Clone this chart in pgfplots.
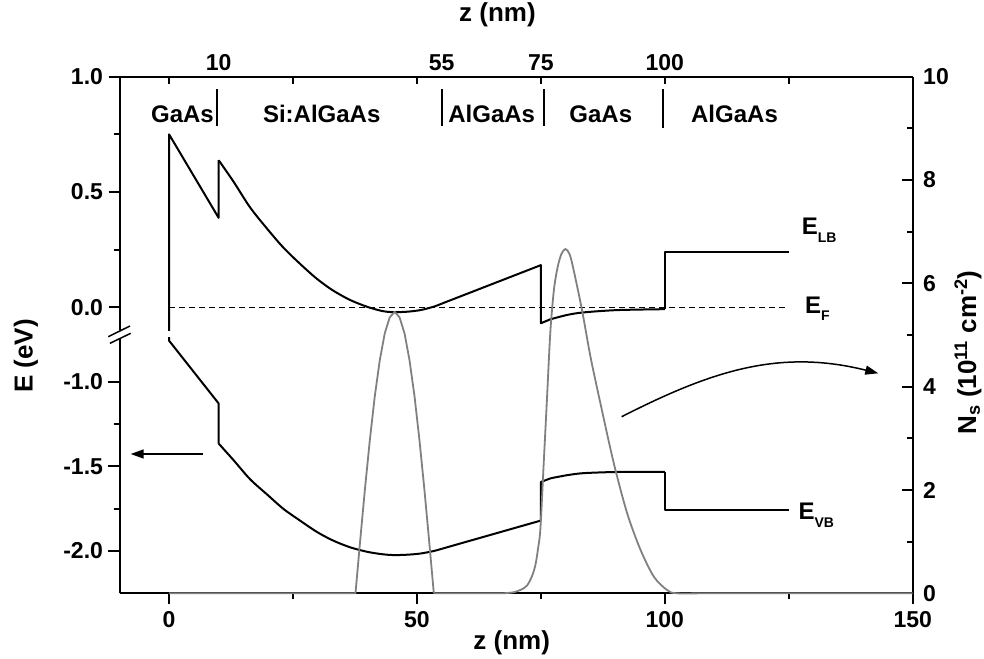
\documentclass[border=0pt]{standalone}
\usepackage{fontspec}
\setmainfont{Liberation Sans}
\usepackage{pgfplots}
\pgfplotsset{compat=1.18}
\usetikzlibrary{arrows.meta}
\definecolor{nsgray}{RGB}{128,128,128}
\newcommand{\tfont}{\fontsize{23}{23}\selectfont\bfseries}
\newcommand{\lfont}{\fontsize{24}{24}\selectfont\bfseries}
\newcommand{\afont}{\fontsize{26}{26}\selectfont\bfseries}
\pgfplotsset{
  base/.style={scale only axis, width=793.2pt, xmin=-10, xmax=150,
    axis line style={line width=2pt,-},
    tick style={line width=2pt, black},
    major tick length=11pt, minor tick length=6pt,
    ticklabel style={font=\tfont},
    /pgf/number format/assume math mode=true},
}
\begin{document}
\begin{tikzpicture}[x=1pt,y=1pt]
\useasboundingbox (0,0) rectangle (984,658);

% ---------- upper energy segment ----------
\begin{axis}[base, at={(119.5pt,327.6pt)}, anchor=south west, height=253.7pt,
  ymin=-0.1, ymax=1.0, axis x line=none, axis y line*=left, tick align=outside,
  ytick={0,0.5,1}, yticklabels={0.0,0.5,1.0}, minor ytick={0.25,0.75},
  yticklabel style={xshift=-2pt}]
\addplot[black, line width=2pt, line join=round] coordinates {(0,-0.3) (0,0.75) (10,0.388) (10,0.638)};
\addplot[black, line width=2pt, smooth] coordinates {(10,0.638) (13,0.545) (16.35,0.433) (20,0.335) (23.1,0.258) (26.5,0.187) (29.8,0.124) (33,0.074) (36.5,0.032) (40,0.002) (43,-0.016) (45.3,-0.021) (48,-0.019) (50.7,-0.012) (53.4,0.003) (55,0.016)};
\addplot[black, line width=2pt, line join=round] coordinates {(55,0.016) (75,0.183) (75,-0.069) (76.9,-0.052)};
\addplot[black, line width=2pt, smooth] coordinates {(76.9,-0.052) (80.3,-0.033) (83.6,-0.022) (90.4,-0.012) (100,-0.008)};
\addplot[black, line width=2pt, line join=round] coordinates {(100,-0.008) (100,0.241) (125,0.241)};
\addplot[black, line width=1.3pt, dash pattern=on 6pt off 4pt] coordinates {(0,0) (125,0)};
\end{axis}

% ---------- lower energy segment ----------
\begin{axis}[base, at={(119.5pt,64.7pt)}, anchor=south west, height=255.5pt,
  ymin=-2.25, ymax=-0.74, axis x line=none, axis y line*=left, tick align=outside,
  ytick={-2,-1.5,-1}, yticklabels={-2.0,-1.5,-1.0}, minor ytick={-1.75,-1.25},
  yticklabel style={xshift=-2pt}]
\addplot[black, line width=2pt, line join=round] coordinates {(0,-0.6) (0,-0.757) (10,-1.128) (10,-1.365)};
\addplot[black, line width=2pt, smooth] coordinates {(10,-1.365) (13,-1.463) (16.35,-1.576) (20,-1.672) (23.1,-1.752) (26.5,-1.822) (29.8,-1.887) (33,-1.937) (36.5,-1.978) (40,-2.005) (43,-2.019) (45.3,-2.024) (48,-2.022) (50.7,-2.015) (53.4,-2.0) (55,-1.987)};
\addplot[black, line width=2pt, line join=round] coordinates {(55,-1.987) (75,-1.82) (75,-1.592) (77,-1.570)};
\addplot[black, line width=2pt, smooth] coordinates {(77,-1.570) (80.3,-1.552) (83.6,-1.540) (90.4,-1.533) (100,-1.532)};
\addplot[black, line width=2pt, line join=round] coordinates {(100,-1.532) (100,-1.755) (125,-1.755)};
\end{axis}

% ---------- bottom x axis ----------
\begin{axis}[base, at={(119.5pt,64.7pt)}, anchor=south west, height=516.6pt,
  ymin=0, ymax=10, axis y line=none, axis x line*=bottom, tick align=outside,
  xtick={0,50,100,150}, xticklabels={0,50,100,150}, minor xtick={25,75,125},
  xticklabel style={yshift=-4pt}]
\end{axis}

% ---------- top x axis ----------
\begin{axis}[base, at={(119.5pt,64.7pt)}, anchor=south west, height=516.6pt,
  ymin=0, ymax=10, axis y line=none, axis x line*=top, tick align=inside,
  xtick={10,55,75,100}, xticklabels={10,55,75,100}, major tick length=0pt,
  minor xtick={0,25,50,75,100,125}, minor tick length=7pt,
  xticklabel style={yshift=2pt}]
\end{axis}

% ---------- right axis: sheet density ----------
\begin{axis}[base, at={(119.5pt,64.7pt)}, anchor=south west, height=516.6pt,
  ymin=0, ymax=10, axis x line=none, axis y line*=right, tick align=inside,
  ytick={0,2,4,6,8,10}, yticklabels={0,2,4,6,8,10}, minor ytick={1,3,5,7,9},
  yticklabel style={xshift=7pt}, clip=false]
\addplot[nsgray, line width=1.8pt, line join=round] coordinates {
 (0,0) (37.6,0) (38.5,0.97) (39.5,2.01) (40.5,2.97) (41.5,3.82) (42.5,4.51)
 (43.5,5.03) (44.5,5.34) (45.5,5.45) (46.5,5.34) (47.5,5.03) (48.5,4.51)
 (49.5,3.82) (50.5,2.97) (51.5,2.01) (52.5,0.97) (53.4,0)};
\addplot[nsgray, line width=1.8pt, smooth] coordinates {
 (53.4,0) (66,0) (68,0.005) (69.5,0.02) (71,0.07) (72.2,0.15) (73.2,0.33) (73.9,0.55)
 (74.4,0.85) (74.9,1.25) (75.57,2.52) (76.25,3.81) (76.9,5.05) (77.6,5.85)
 (78.3,6.28) (79.1,6.56) (79.95,6.665) (80.8,6.56) (81.6,6.26) (83.3,5.48)
 (85.0,4.58) (87.0,3.68) (89.7,2.52) (92.4,1.55) (95.1,0.84) (97.8,0.32)
 (100.5,0.06) (102.5,0) (110,0) (150,0)};
\end{axis}

% ---------- axis break ----------
\fill[white] (108.3,321.3) -- (130,332) -- (130.7,324.7) -- (110,314.7) -- cycle;
\draw[line width=1.5pt] (108.3,321.3) -- (130,332);
\draw[line width=1.5pt] (110,314.7) -- (130.7,324.7);

% ---------- axis titles ----------
\node[font=\afont] at (497.5,643) {z (nm)};
\node[font=\afont] at (511.7,15) {z (nm)};
\node[font=\afont, rotate=90] at (26,302) {E (eV)};
\node[font=\afont, rotate=90] at (968,305.5) {N\textsubscript{s} (10\textsuperscript{11} cm\textsuperscript{-2})};

% ---------- layer labels ----------
\node[font=\lfont] at (182.5,544) {GaAs};
\node[font=\lfont] at (321.7,544) {Si:AlGaAs};
\node[font=\lfont] at (491.7,544) {AlGaAs};
\node[font=\lfont] at (600.8,544) {GaAs};
\node[font=\lfont] at (734.5,544) {AlGaAs};
\draw[line width=2pt] (217.3,568.7) -- (217.3,532);
\draw[line width=2pt] (441.7,568.7) -- (441.7,532);
\draw[line width=2pt] (544,568.7) -- (544,532);
\draw[line width=2pt] (663.3,568.7) -- (663.3,530);

% ---------- band labels ----------
\node[font=\lfont, anchor=base west, inner sep=0pt] at (801.7,423) {E\raisebox{-7.5pt}{\fontsize{14}{14}\selectfont LB}};
\node[font=\lfont, anchor=base west, inner sep=0pt] at (805,344.7) {E\raisebox{-7.5pt}{\fontsize{14}{14}\selectfont F}};
\node[font=\lfont, anchor=base west, inner sep=0pt] at (798.3,138) {E\raisebox{-7.5pt}{\fontsize{14}{14}\selectfont VB}};

% ---------- arrows ----------
\draw[line width=1.5pt, -{Triangle[length=13pt,width=9pt]}] (203.3,204) -- (130.7,204);
\draw[line width=1.5pt, -{Triangle[length=13pt,width=9pt]}] (621.7,241.3) to[out=27,in=166] (878.3,284.7);
\end{tikzpicture}
\end{document}
